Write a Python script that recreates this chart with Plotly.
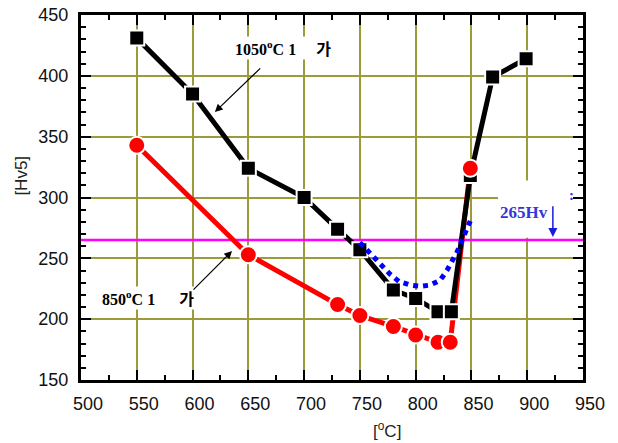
import plotly.graph_objects as go

# ---- data ----
temp_1050 = [550, 600, 650, 700, 730, 750, 780, 800, 820, 832, 849, 869, 899]
hv_1050 = [431, 385, 324, 300, 274, 257, 224, 217, 206, 206, 318, 399, 414]

temp_850 = [550, 650, 730, 750, 780, 800, 820, 831, 849]
hv_850 = [343, 253, 212, 203, 194, 187, 181, 181, 324]

temp_fit = [750, 758, 767, 777, 785, 795, 804, 813, 822, 828, 837, 844, 850]
hv_fit = [263, 255, 246, 237, 231, 228, 227, 228, 232, 240, 255, 270, 283]

limit_x = [500, 950]
limit_hv = [265, 265]

x_ticks = [500, 550, 600, 650, 700, 750, 800, 850, 900, 950]
y_ticks = [150, 200, 250, 300, 350, 400, 450]

label_1050 = "1050<sup>o</sup>C 1&nbsp;&nbsp;&nbsp;&nbsp;&nbsp;가&nbsp;&nbsp;&nbsp;&nbsp;&nbsp;&nbsp;"
label_850 = "850<sup>o</sup>C 1&nbsp;&nbsp;&nbsp;&nbsp;&nbsp;&nbsp;가"
label_limit = "265Hv"

SANS = "Liberation Sans, Arial, sans-serif"
SERIF = "Liberation Serif, Times New Roman, Noto Sans CJK KR, serif"
GRID = "#9b9b3a"

fig = go.Figure()

# magenta limit line
fig.add_trace(go.Scatter(x=limit_x, y=limit_hv, mode="lines",
                         line=dict(color="#ff00ff", width=2.5), hoverinfo="skip"))
# red line
fig.add_trace(go.Scatter(x=temp_850, y=hv_850, mode="lines",
                         line=dict(color="#ff0000", width=5)))
# black line
fig.add_trace(go.Scatter(x=temp_1050, y=hv_1050, mode="lines",
                         line=dict(color="#000000", width=5)))
# black markers
fig.add_trace(go.Scatter(x=temp_1050, y=hv_1050, mode="markers",
                         marker=dict(symbol="square", size=15, color="#000000",
                                     line=dict(color="white", width=2))))
# red markers
fig.add_trace(go.Scatter(x=temp_850, y=hv_850, mode="markers",
                         marker=dict(symbol="circle", size=17, color="#ff0000",
                                     line=dict(color="white", width=2))))
# blue dotted
fig.add_trace(go.Scatter(x=temp_fit, y=hv_fit, mode="lines",
                         line=dict(color="#0000ff", width=5, dash="5px,5px")))

axis_common = dict(
    ticks="inside", ticklen=10, tickwidth=2, tickcolor="black",
    showline=True, linewidth=3, linecolor="black", mirror="ticks",
    showgrid=True, gridcolor=GRID, gridwidth=2, zeroline=False,
    automargin=False,
    tickfont=dict(family=SANS, size=18, color="#111111"),
)

fig.update_xaxes(range=[500, 950], tickvals=x_ticks, ticktext=[str(v) for v in x_ticks],
                 minor=dict(dtick=25, tick0=500, ticks="inside", ticklen=5, tickwidth=2,
                            tickcolor="black", showgrid=False),
                 ticklabelstandoff=5, ticklabelshift=7, **axis_common)
fig.update_yaxes(range=[150, 450], tickvals=y_ticks, ticktext=[str(v) for v in y_ticks],
                 minor=dict(dtick=10, tick0=150, ticks="inside", ticklen=5, tickwidth=2,
                            tickcolor="black", showgrid=False),
                 ticklabelstandoff=6, **axis_common)

# white box behind 265Hv label
fig.add_shape(type="rect", xref="x", yref="y", x0=873.8, x1=950, y0=267, y1=314,
              fillcolor="white", line=dict(width=0), layer="between")

ann = []
ann.append(dict(text=label_1050, x=636, y=423, xref="x", yref="y", xanchor="left",
                yanchor="middle", showarrow=False, bgcolor="white",
                font=dict(family=SERIF, size=16, color="black", weight="bold")))
ann.append(dict(text=label_850, x=517, y=217.4, xref="x", yref="y", xanchor="left",
                yanchor="middle", showarrow=False, bgcolor="white",
                font=dict(family=SERIF, size=16, color="black", weight="bold")))
ann.append(dict(text="", x=620, y=370.3, ax=662, ay=407.3, xref="x", yref="y",
                axref="x", ayref="y", showarrow=True, arrowhead=2, arrowsize=1.3,
                arrowwidth=1.2, arrowcolor="black", standoff=0))
ann.append(dict(text="", x=635.4, y=256, ax=599.5, ay=223.1, xref="x", yref="y",
                axref="x", ayref="y", showarrow=True, arrowhead=2, arrowsize=1.3,
                arrowwidth=1.2, arrowcolor="black", standoff=0))
ann.append(dict(text=label_limit, x=873.8, y=288, xref="x", yref="y", xanchor="left",
                yanchor="middle", showarrow=False,
                font=dict(family=SERIF, size=17, color="#3535d8", weight="bold")))
ann.append(dict(text=":", x=940, y=302, xref="x", yref="y", showarrow=False,
                font=dict(family=SERIF, size=15, color="#3535d8", weight="bold")))
ann.append(dict(text="", x=923, y=267.5, ax=923, ay=294, xref="x", yref="y",
                axref="x", ayref="y", showarrow=True, arrowhead=2, arrowsize=1.2,
                arrowwidth=1.5, arrowcolor="#1a1ae0", standoff=0))
# axis titles
ann.append(dict(text="[Hv5]", x=-0.1175, y=0.56, xref="paper", yref="paper",
                textangle=-90, showarrow=False, xanchor="center", yanchor="middle",
                font=dict(family=SANS, size=17, color="#222222")))
ann.append(dict(text="[<sup>o</sup>C]", x=0.61, y=-0.138, xref="paper", yref="paper",
                showarrow=False, xanchor="center", yanchor="middle",
                font=dict(family=SANS, size=17, color="#222222")))

fig.update_layout(width=618, height=443, margin=dict(l=81, r=35, t=15, b=63),
                  plot_bgcolor="white", paper_bgcolor="white", showlegend=False,
                  annotations=ann)

fig.write_html("out.html")
